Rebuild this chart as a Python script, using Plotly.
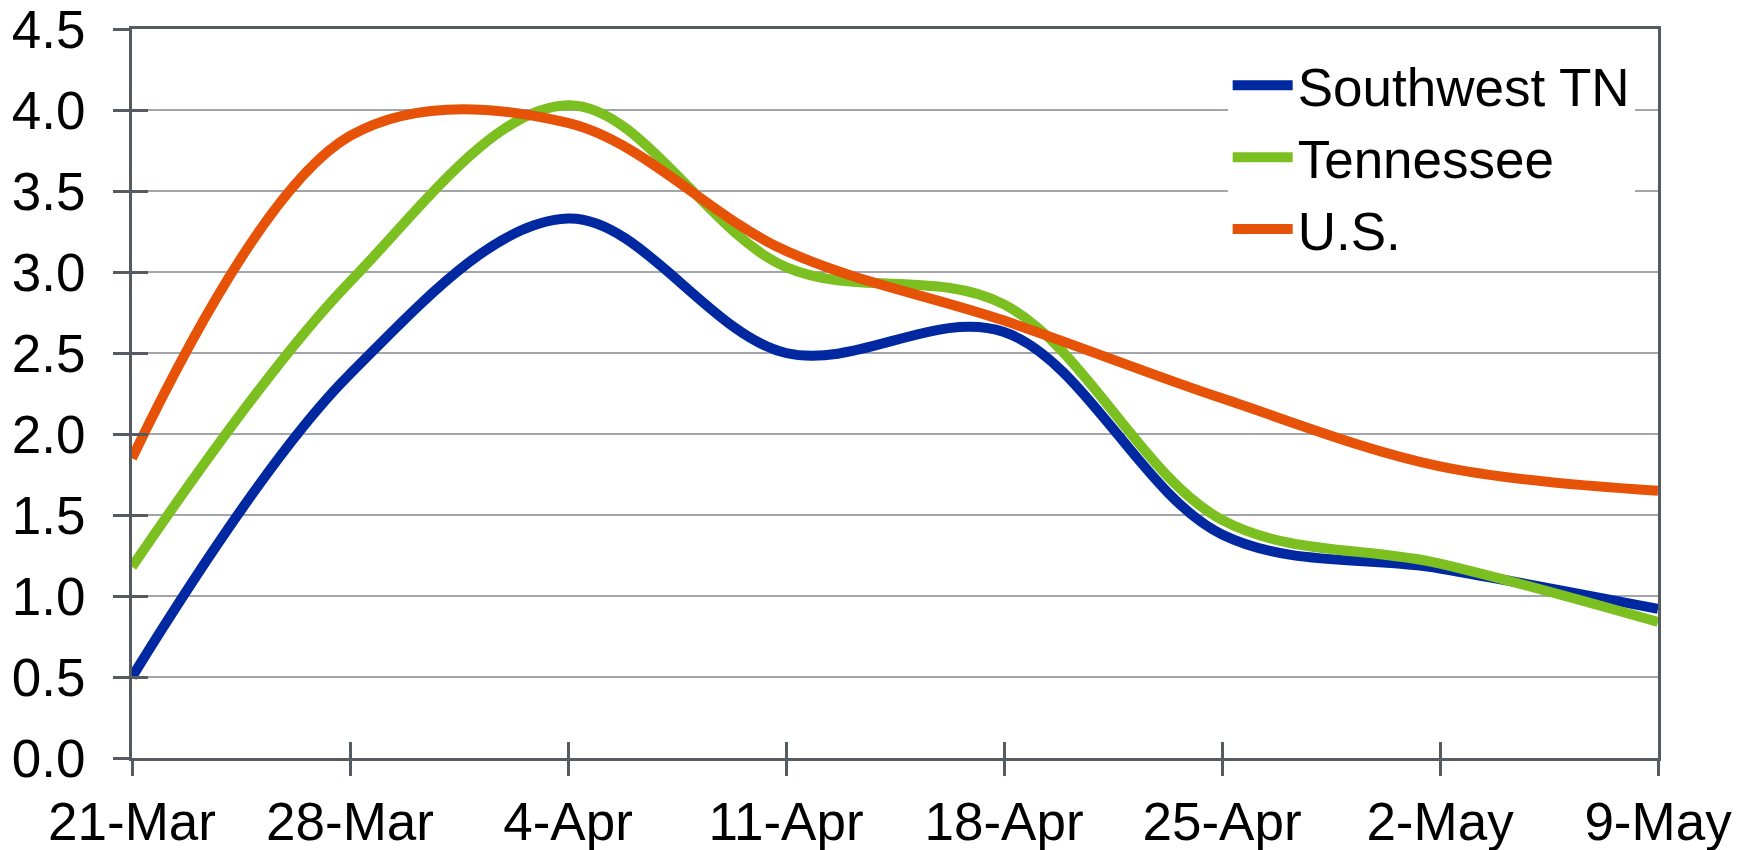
import plotly.graph_objects as go

dates = ["2020-03-21", "2020-03-28", "2020-04-04", "2020-04-11",
         "2020-04-18", "2020-04-25", "2020-05-02", "2020-05-09"]
tick_labels = ["21-Mar", "28-Mar", "4-Apr", "11-Apr", "18-Apr", "25-Apr", "2-May", "9-May"]
y_ticks = [0.0, 0.5, 1.0, 1.5, 2.0, 2.5, 3.0, 3.5, 4.0, 4.5]

southwest_tn = [0.50, 2.37, 3.33, 2.50, 2.63, 1.38, 1.17, 0.92]
tennessee = [1.18, 2.94, 4.03, 3.03, 2.80, 1.47, 1.20, 0.84]
us = [1.85, 3.84, 3.92, 3.13, 2.70, 2.22, 1.80, 1.65]

series = [
    ("Southwest TN", southwest_tn, "#0028A0"),
    ("Tennessee", tennessee, "#7BBF21"),
    ("U.S.", us, "#E65208"),
]

FONT = "Liberation Sans, Arial, sans-serif"
AXIS = "#565b61"
GRID = "#a2a5a9"
FS = 53

fig = go.Figure()
for name, vals, color in series:
    fig.add_trace(go.Scatter(
        x=dates, y=vals, name=name, mode="lines",
        line=dict(color=color, width=10, shape="spline", smoothing=1.0),
    ))
# empty helper trace so the overlay axes (inside half of the crossing ticks) are drawn
fig.add_trace(go.Scatter(x=[], y=[], xaxis="x2", yaxis="y2",
                         showlegend=False, hoverinfo="skip"))

# the page body has an 8px default margin; the figure is shrunk to fit the window
fig.update_layout(
    width=1742, height=842,
    paper_bgcolor="white", plot_bgcolor="white",
    margin=dict(l=124, r=92, t=21, b=92, autoexpand=False),
    font=dict(family=FONT, size=FS, color="black"),
    showlegend=True,
    legend=dict(
        x=0.718, y=0.979, xanchor="left", yanchor="top",
        bgcolor="white", borderwidth=0,
        font=dict(size=FS, family=FONT, color="black"),
        itemwidth=60, tracegroupgap=0,
    ),
    xaxis2=dict(
        type="date", overlaying="x", anchor="y", side="bottom",
        range=[dates[0], dates[-1]], tickvals=dates,
        showticklabels=False, showgrid=False, zeroline=False, showline=False,
        ticks="inside", ticklen=16, tickwidth=3, tickcolor=AXIS,
    ),
    yaxis2=dict(
        overlaying="y", anchor="x", side="left",
        range=[0, 4.5], tickvals=y_ticks,
        showticklabels=False, showgrid=False, zeroline=False, showline=False,
        ticks="inside", ticklen=16, tickwidth=3, tickcolor=AXIS,
    ),
)

fig.layout.xaxis.update(
    type="date", automargin=False,
    range=[dates[0], dates[-1]],
    tickvals=dates, ticktext=tick_labels,
    showgrid=False, zeroline=False,
    showline=True, linecolor=AXIS, linewidth=3, mirror=True,
    ticks="outside", ticklen=15, tickwidth=3, tickcolor=AXIS,
    ticklabeloverflow="allow",
    tickfont=dict(size=FS, family=FONT, color="black"),
)
fig.layout.yaxis.update(
    automargin=False,
    range=[0, 4.5], tickvals=y_ticks, tickformat=".1f",
    showgrid=True, gridcolor=GRID, gridwidth=2, zeroline=False,
    showline=True, linecolor=AXIS, linewidth=3, mirror=True,
    ticks="outside", ticklen=16, tickwidth=3, tickcolor=AXIS,
    ticklabelstandoff=17, ticklabeloverflow="allow",
    tickfont=dict(size=FS, family=FONT, color="black"),
)

fig.write_html("out.html")
